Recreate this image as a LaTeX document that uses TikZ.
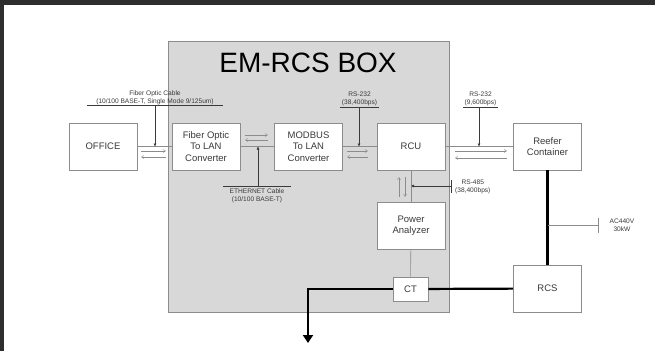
\documentclass[tikz,border=0pt]{standalone}
\usepackage{fontspec}
\setmainfont{Liberation Sans}
\usetikzlibrary{arrows.meta}
\definecolor{framec}{HTML}{2E2E2E}
\definecolor{boxgray}{HTML}{D8D8D8}
\definecolor{edgec}{HTML}{8C8C8C}
\definecolor{txtc}{HTML}{3A3A3A}
\begin{document}
\begin{tikzpicture}[x=1pt,y=-1pt,
  blk/.style={draw=edgec, fill=white, line width=0.7pt, minimum width=68pt, minimum height=47pt,
    align=center, text=txtc, inner sep=0pt, font=\fontsize{9.5}{11.5}\selectfont},
  lbl/.style={align=center, text=txtc, inner sep=0pt, font=\fontsize{6.6}{8}\selectfont},
  thinln/.style={draw=edgec, line width=0.6pt},
  sarr/.style={draw=edgec, line width=0.45pt, -{Straight Barb[length=2.5pt,width=3pt]}},
  larr/.style={draw=txtc, line width=0.5pt, -{Latex[length=3pt,width=3pt]}},
  thick2/.style={draw=black, line width=2.2pt},
  ]
\useasboundingbox (0,0) rectangle (655,351);
\fill[white] (0,0) rectangle (655,351);
\fill[framec] (0,0) rectangle (655,5);
\fill[framec] (0,0) rectangle (4,351);

% EM-RCS box
\draw[fill=boxgray, draw=edgec, line width=0.7pt] (168,41) rectangle (449,312);
\node[font=\fontsize{28}{30}\selectfont, text=black, inner sep=0pt] (title) at (308,63) {EM-RCS BOX};

% blocks
\node[blk] (office) at (103,146.5) {OFFICE};
\node[blk] (fiber)  at (206,146.5) {Fiber Optic\\To LAN\\Converter};
\node[blk] (modbus) at (308.5,146.5) {MODBUS\\To LAN\\Converter};
\node[blk] (rcu)    at (411,146.5) {RCU};
\node[blk] (reefer) at (547.5,146.5) {Reefer\\Container};
\node[blk] (pa)     at (411,225.5) {Power\\Analyzer};
\node[blk, minimum width=35pt, minimum height=24pt] (ct) at (410.5,289) {CT};
\node[blk] (rcs)    at (547.5,288.5) {RCS};

% main thin connectors
\draw[thinln] (office) -- (fiber);
\draw[thinln] (fiber) -- (modbus);
\draw[thinln] (modbus) -- (rcu);
\draw[thinln] (rcu) -- (reefer);
\draw[thinln] (rcu) -- (pa);
\draw[thinln] (pa) -- (ct);

% small direction arrows
\coordinate (a1s) at (141,151); \coordinate (a1e) at (166,151);
\coordinate (a2s) at (166,157); \coordinate (a2e) at (141,157);
\draw[sarr] (a1s) -- (a1e); \draw[sarr] (a2s) -- (a2e);
\coordinate (b1s) at (245,135); \coordinate (b1e) at (268,135);
\coordinate (b2s) at (268,140); \coordinate (b2e) at (245,140);
\draw[sarr] (b1s) -- (b1e); \draw[sarr] (b2s) -- (b2e);
\coordinate (c1s) at (347,151); \coordinate (c1e) at (368,151);
\coordinate (c2s) at (368,157); \coordinate (c2e) at (347,157);
\draw[sarr] (c1s) -- (c1e); \draw[sarr] (c2s) -- (c2e);
\coordinate (d1s) at (455,151); \coordinate (d1e) at (507,151);
\coordinate (d2s) at (507,158); \coordinate (d2e) at (455,158);
\draw[sarr] (d1s) -- (d1e); \draw[sarr] (d2s) -- (d2e);
\coordinate (e1s) at (399,197); \coordinate (e1e) at (399,177);
\coordinate (e2s) at (405,177); \coordinate (e2e) at (405,197);
\draw[sarr] (e1s) -- (e1e); \draw[sarr] (e2s) -- (e2e);

% Fiber optic cable label
\node[lbl] (foc) at (155,97.5) {Fiber Optic Cable\\(10/100 BASE-T, Single Mode 9/125um)};
\coordinate (focl) at (87,105); \coordinate (focr) at (223,105);
\coordinate (focm) at (155,105); \coordinate (focj) at (155,146.5);
\draw[thinln, draw=txtc, line width=0.5pt] (focl) -- (focr);
\draw[larr] (focm) -- (focj);

% Ethernet label
\node[lbl] (eth) at (257,196) {ETHERNET Cable\\(10/100 BASE-T)};
\coordinate (ethl) at (223,186); \coordinate (ethr) at (291,186);
\coordinate (ethm) at (258,186); \coordinate (ethj) at (258,146.5);
\draw[thinln, draw=txtc, line width=0.5pt] (ethl) -- (ethr);
\draw[larr] (ethm) -- (ethj);

% RS-232 (38,400bps)
\node[lbl] (rs1) at (359.5,99) {RS-232\\(38,400bps)};
\coordinate (rs1l) at (340,107); \coordinate (rs1r) at (379,107);
\coordinate (rs1m) at (359,107); \coordinate (rs1j) at (359,146.5);
\draw[thinln, draw=txtc, line width=0.5pt] (rs1l) -- (rs1r);
\draw[larr] (rs1m) -- (rs1j);

% RS-232 (9,600bps)
\node[lbl] (rs2) at (480.5,99) {RS-232\\(9,600bps)};
\coordinate (rs2l) at (463,107); \coordinate (rs2r) at (498,107);
\coordinate (rs2m) at (479,107); \coordinate (rs2j) at (479,146.5);
\draw[thinln, draw=txtc, line width=0.5pt] (rs2l) -- (rs2r);
\draw[larr] (rs2m) -- (rs2j);

% RS-485
\node[lbl, anchor=west] (rs3) at (455,187) {RS-485\\(38,400bps)};
\coordinate (rs3t) at (451,180); \coordinate (rs3b) at (451,193);
\coordinate (rs3m) at (451,186); \coordinate (rs3j) at (411,186);
\draw[thinln, draw=txtc, line width=0.5pt] (rs3t) -- (rs3b);
\draw[larr] (rs3m) -- (rs3j);

% power lines
\coordinate (bend) at (308,289);
\coordinate (down) at (308,343);
\draw[thick2] (reefer) -- (rcs);
\draw[thick2] (rcs) -- (ct);
\draw[thick2, -{Triangle[length=8pt,width=10pt]}] (ct.west) -- (bend) -- (down);

% AC440V
\coordinate (acj) at (548,225); \coordinate (acm) at (598,225);
\coordinate (act) at (598,218); \coordinate (acb) at (598,233);
\fill[black] (acj) circle (1.4pt);
\draw[thinln] (acj) -- (acm);
\draw[thinln] (act) -- (acb);
\node[lbl] (ac) at (622,225) {AC440V\\30kW};
\end{tikzpicture}
\end{document}
